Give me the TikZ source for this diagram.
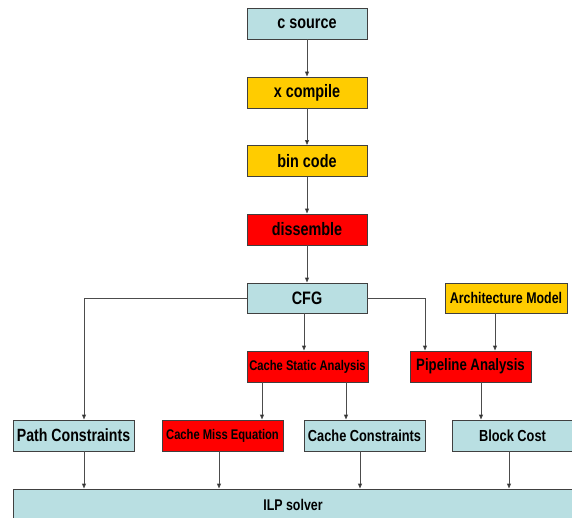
\documentclass[tikz,border=0pt]{standalone}
\usepackage{fontspec}
\setmainfont{Liberation Sans}[FakeStretch=0.8]
\usetikzlibrary{arrows.meta}
\definecolor{lblue}{RGB}{185,223,226}
\definecolor{gold}{RGB}{255,204,0}
\definecolor{redbox}{RGB}{255,0,0}
\tikzset{
  box/.style={draw=black!75, line width=0.9pt, minimum width=120pt, minimum height=31pt, inner sep=0pt, font=\bfseries\fontsize{18}{18}\selectfont},
  blue/.style={box, fill=lblue},
  yel/.style={box, fill=gold},
  rd/.style={box, fill=redbox},
  small/.style={font=\bfseries\fontsize{14}{14}\selectfont},
  mid/.style={font=\bfseries\fontsize{16}{16}\selectfont},
  arr/.style={draw=black!70, line width=0.9pt, -{Triangle[length=5pt,width=4pt,fill=black]}}
}
\begin{document}
\begin{tikzpicture}[x=1pt,y=-1pt]
\useasboundingbox (0,0) rectangle (572,518);
\clip (0,0) rectangle (572,518);
\node[blue] (src) at (307,23.5) {c source};
\node[yel] (xc) at (307,92.5) {x compile};
\node[yel] (bin) at (307,161) {bin code};
\node[rd] (dis) at (307,229.5) {dissemble};
\node[blue, minimum height=30pt] (cfg) at (307,298) {CFG};
\node[yel, minimum width=122pt, minimum height=30pt, font=\bfseries\fontsize{15.5}{15.5}\selectfont] (arch) at (506,298) {Architecture Model};
\node[rd, minimum width=121pt, small] (csa) at (307.5,366.5) {Cache Static Analysis};
\node[rd, minimum width=121pt, font=\bfseries\fontsize{16.5}{16.5}\selectfont] (pipe) at (470.5,366.5) {Pipeline Analysis};
\node[blue, minimum width=121pt, font=\bfseries\fontsize{17.7}{17.7}\selectfont] (path) at (73.5,435.5) {Path Constraints};
\node[rd, minimum width=121pt, small] (cme) at (222.5,435.5) {Cache Miss Equation};
\node[blue, minimum width=121pt, mid] (cc) at (364.5,435.5) {Cache Constraints};
\node[blue, minimum width=121pt, mid] (bc) at (512.5,435.5) {Block Cost};
\node[blue, minimum width=560pt, minimum height=31pt, font=\bfseries\fontsize{15.5}{15.5}\selectfont] (ilp) at (293,504.5) {ILP solver};

\draw[arr] (src) -- (xc);
\draw[arr] (xc) -- (bin);
\draw[arr] (bin) -- (dis);
\draw[arr] (dis) -- (cfg);
\draw[arr] (cfg.west) -| ([xshift=10.5pt]path.north);
\draw[arr] ([xshift=-3.5pt]csa.north |- cfg.south) -- ([xshift=-3.5pt]csa.north);
\draw[arr] (cfg.east) -| ([xshift=-45.5pt]pipe.north);
\draw[arr] ([xshift=-11pt]arch.south) -- ([xshift=-11pt]arch.south |- pipe.north);
\draw[arr] ([xshift=39.5pt]cme.north |- csa.south) -- ([xshift=39.5pt]cme.north);
\draw[arr] ([xshift=-18.5pt]cc.north |- csa.south) -- ([xshift=-18.5pt]cc.north);
\draw[arr] ([xshift=-31.5pt]bc.north |- pipe.south) -- ([xshift=-31.5pt]bc.north);
\draw[arr] ([xshift=10.5pt]path.south) -- ([xshift=10.5pt]path.south |- ilp.north);
\draw[arr] ([xshift=-3.5pt]cme.south) -- ([xshift=-3.5pt]cme.south |- ilp.north);
\draw[arr] ([xshift=-4.5pt]cc.south) -- ([xshift=-4.5pt]cc.south |- ilp.north);
\draw[arr] ([xshift=-3.5pt]bc.south) -- ([xshift=-3.5pt]bc.south |- ilp.north);
\end{tikzpicture}
\end{document}
